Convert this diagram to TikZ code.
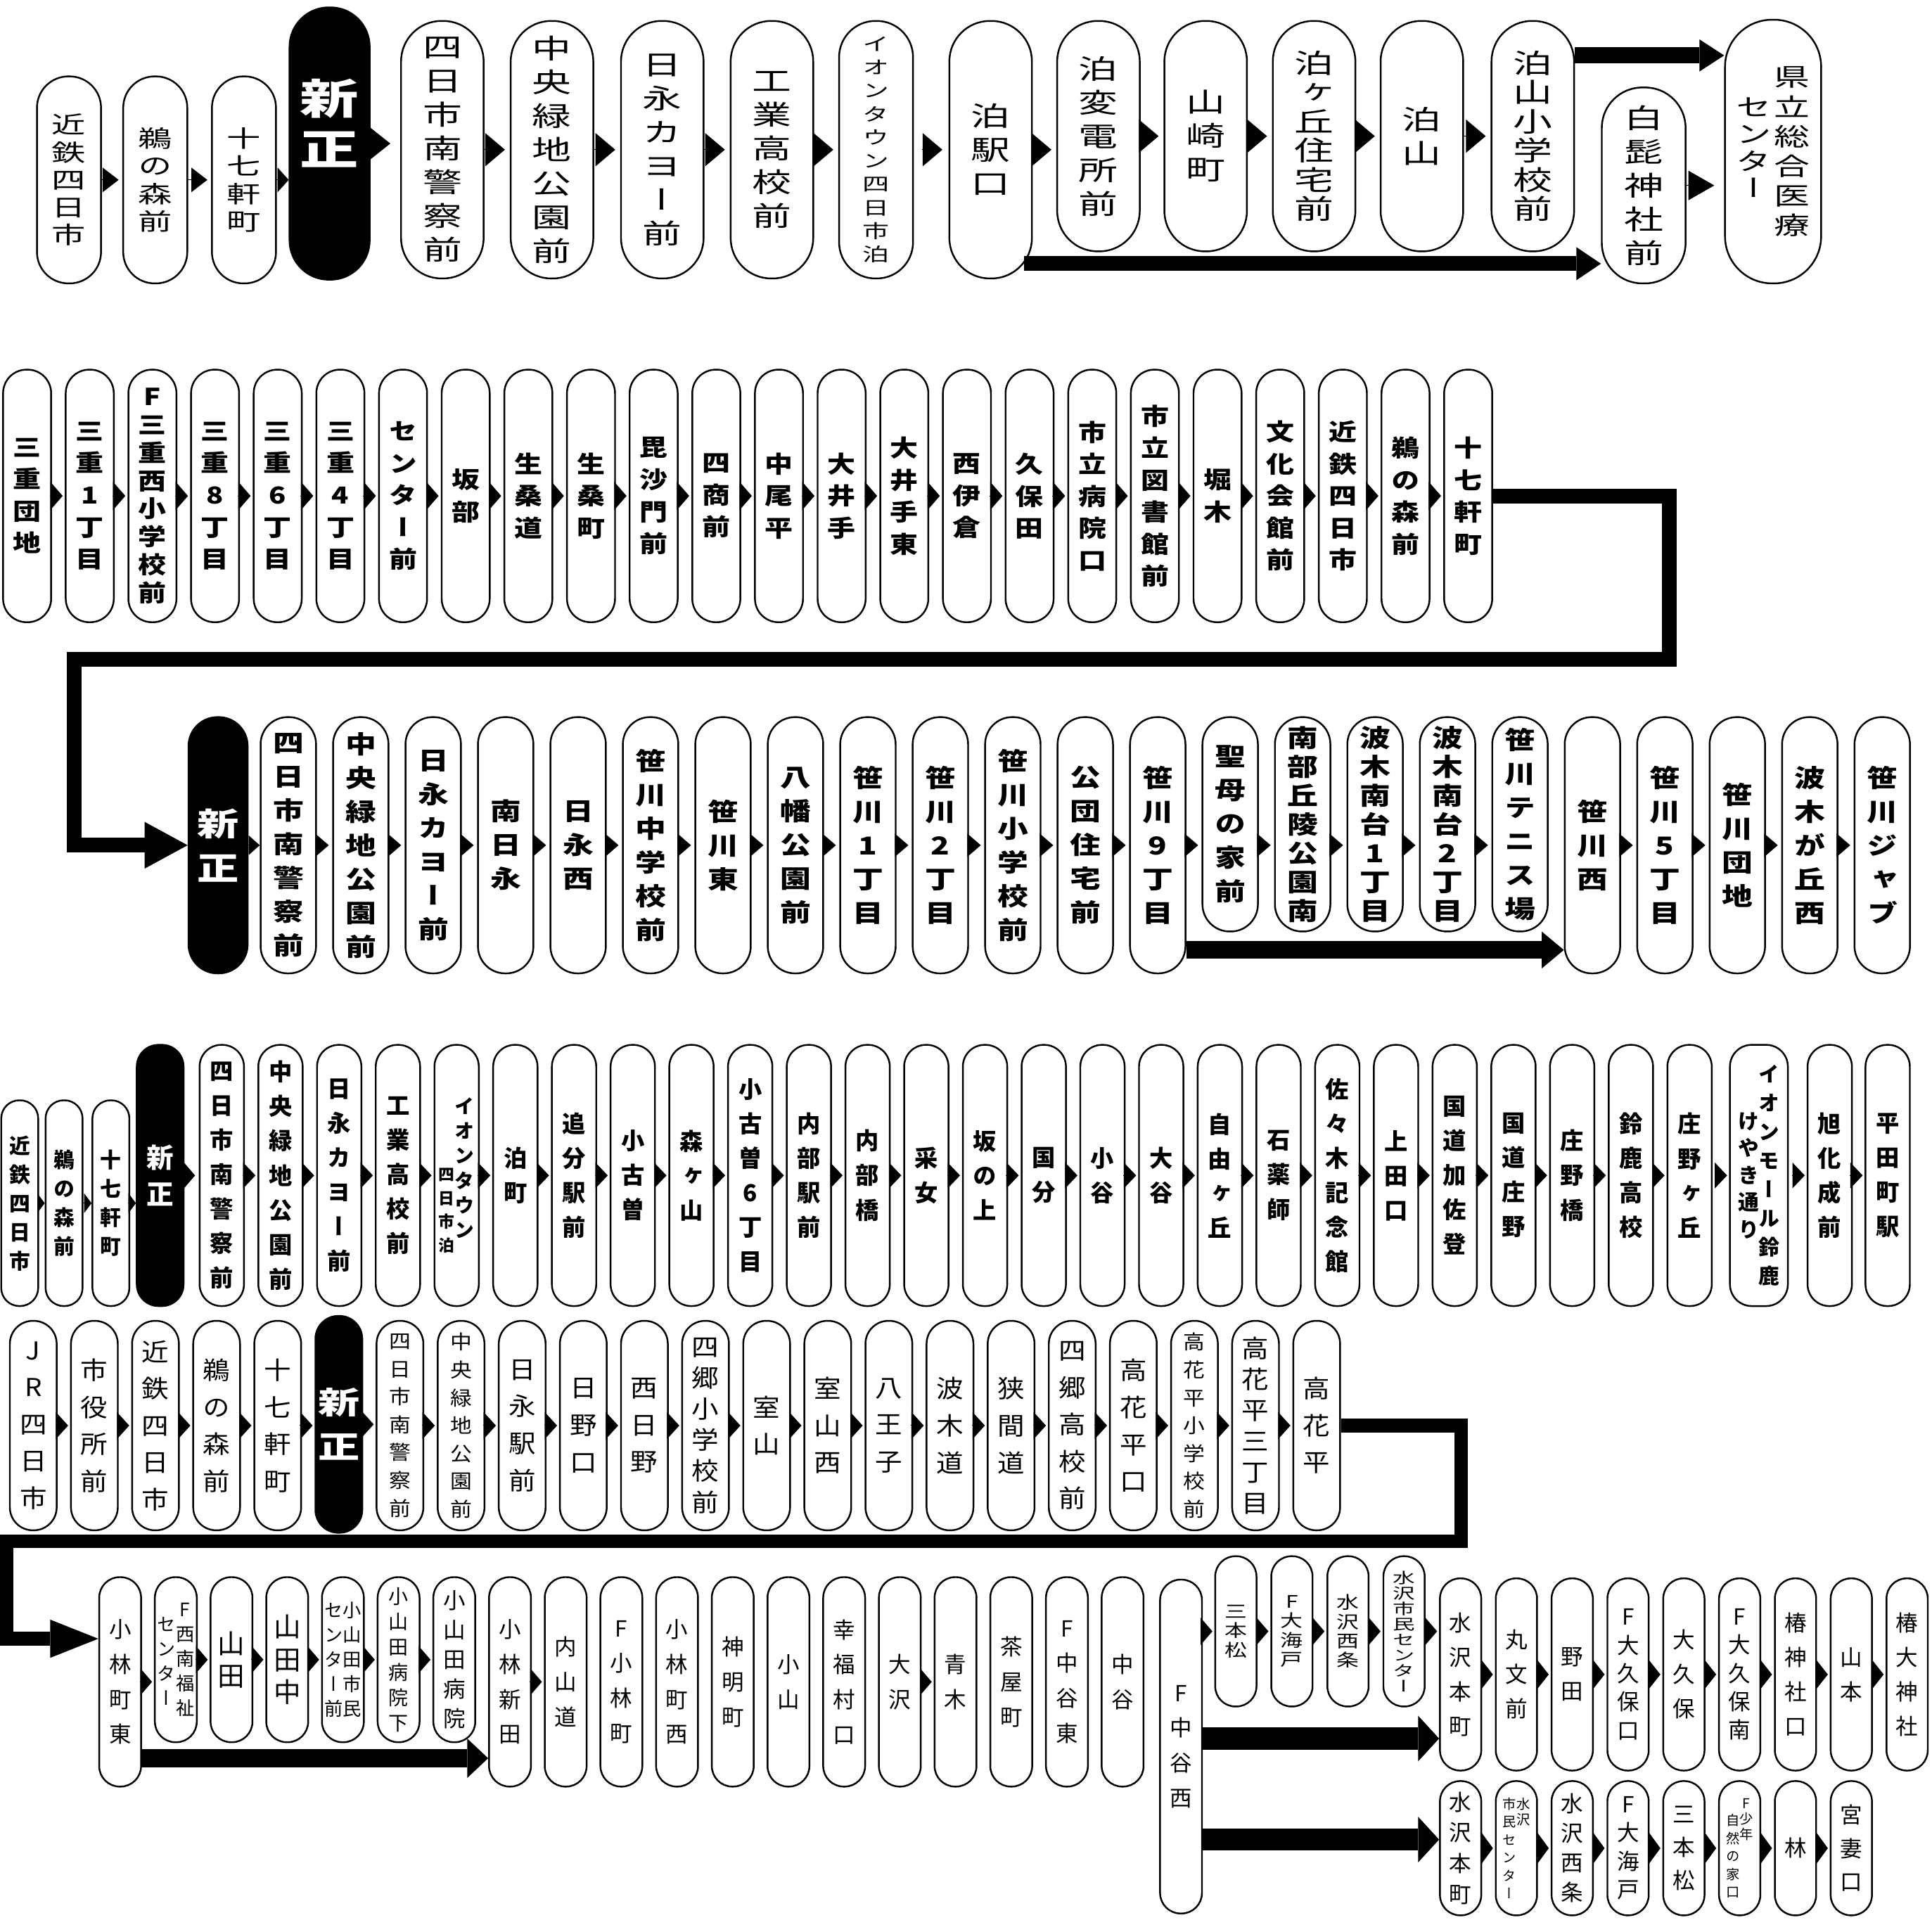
\documentclass[tikz,border=0pt]{standalone}
\usepackage{fontspec}
\usepackage{graphicx}
\usetikzlibrary{arrows.meta}
\newfontfamily\jp{Noto Sans CJK JP}[RawFeature=+vert]
\newcommand\setfs[2]{\fontsize{#1}{#2}\selectfont}
\def\vsx{1}
% stacked (vertical) station names
\ExplSyntaxOn
\NewDocumentCommand \vt { O{} m }
  {
    \scalebox{\vsx}[1]
      {
        \vtop
          {
            \tl_if_empty:nF {#1} { \skip_set:Nn \baselineskip {#1} }
            \dim_set:Nn \lineskiplimit { -\c_max_dim }
            \tl_map_inline:nn {#2} { \hbox_to_wd:nn { 1em } { \hss ##1 \hss } }
          }
      }
  }
\ExplSyntaxOff

\begin{document}
\begin{tikzpicture}[x=0.5pt, y=-0.5pt,
    stn/.style={draw, line width=0.7pt, fill=white, inner sep=0pt},
    stnbox/.style 2 args={stn, minimum width=#1, minimum height=#2, rounded corners=0.49*#1},
    blk/.style={fill=black, text=white},
    tri/.style 2 args={line width=0pt, -{Triangle[length=#1, width=#2]}},
    bigarrow/.style n args={3}{line width=#1, line join=miter, -{Triangle[length=#2, width=#3, line width=0pt]}},
    r1/.style={stnbox={33.5pt}{104.5pt}, font=\jp\setfs{11}{13.7}\def\vsx{1.45}},
    r1s/.style={stnbox={26pt}{84pt}, font=\jp\setfs{9.5}{11.2}\def\vsx{1.45}},
    r1m/.style={r1, minimum height=93.5pt},
    r2/.style={stnbox={19.5pt}{102.5pt}, font=\jp\bfseries\setfs{9.5}{13}\def\vsx{1.2}},
    r3/.style={stnbox={22.5pt}{104pt}, font=\jp\bfseries\setfs{10}{13.7}\def\vsx{1.25}},
    r3s/.style={r3, minimum height=87pt},
    r4/.style={stnbox={18pt}{106pt}, font=\jp\bfseries\setfs{9.5}{14}},
    r4s/.style={stnbox={15pt}{83.5pt}, font=\jp\bfseries\setfs{8.5}{11.7}},
    r5/.style={stnbox={19pt}{85pt}, font=\jp\setfs{10}{15}\def\vsx{1.1}},
    r6/.style={stnbox={17pt}{85pt}, font=\jp\setfs{9}{14.2}},
    r6s/.style={r6, minimum height=67pt},
    r6u/.style={stnbox={16.75pt}{61pt}, font=\jp\setfs{7}{7.8}\def\vsx{1.3}},
    r6r/.style={stnbox={16.75pt}{78pt}, font=\jp\setfs{9}{14}},
    r6b/.style={stnbox={16.75pt}{54.5pt}, font=\jp\setfs{9}{12.5}},
]
\path[use as bounding box, fill=white] (0,0) rectangle (1568,1558);

% Row 1 - Tomari / Kenritsu
\node[r1s] (a1) at (56,146) {\vt{近鉄四日市}};
\node[r1s] (a2) at (126,146) {\vt{鵜の森前}};
\node[r1s] (a3) at (198,146) {\vt{十七軒町}};
\node[stnbox={32.5pt}{110.5pt}, blk] (a4) at (267.5,116.5) {};
\node[text=white, font=\jp\bfseries\setfs{17}{20.6}\def\vsx{1.4}] (a4t) at (267.5,100) {\vt{新正}};
\node[r1] (a5) at (359,121.5) {\vt{四日市南警察前}};
\node[r1] (a6) at (448,121.5) {\vt{中央緑地公園前}};
\node[r1] (a7) at (537.5,121.5) {\vt{日永カヨー前}};
\node[r1] (a8) at (626.5,121.5) {\vt{工業高校前}};
\node[stnbox={30pt}{104.5pt}, font=\jp\setfs{7.5}{9.5}\def\vsx{1.45}] (a9) at (711,121.5) {\vt{イオンタウン四日市泊}};
\node[r1] (a10) at (804,121.5) {\vt{泊駅口}};
\node[r1m] (a11) at (891.5,110.5) {\vt{泊変電所前}};
\node[r1m] (a12) at (978.5,110.5) {\vt{山崎町}};
\node[r1m] (a13) at (1066.5,110.5) {\vt[11.85pt]{泊ヶ丘住宅前}};
\node[r1m] (a14) at (1154,110.5) {\vt{泊山}};
\node[r1m] (a15) at (1244,110.5) {\vt[11.85pt]{泊山小学校前}};
\node[r1, minimum width=34pt, minimum height=79.5pt] (a16) at (1334,150.5) {\vt{白髭神社前}};
\node[stnbox={39pt}{107pt}, font=\jp\setfs{10}{12}\def\vsx{1.45}] (a17) at (1439,123) {\raisebox{-12pt}{\vt[11pt]{センター}}\hspace{1pt}\vt{県立総合医療}};

\draw[tri={6.5pt}{10pt}, shorten >=1.5pt] (a1.east) -- (a1.east -| a2.west);
\draw[tri={6.5pt}{10pt}, shorten >=1.5pt] (a2.east) -- (a2.east -| a3.west);
\draw[tri={4.5pt}{10pt}] (a3.east) -- (a3.east -| a4.west);
\draw[tri={8.5pt}{13.5pt}, shorten >=4pt] (a4.east) -- (a4.east -| a5.west);
\foreach \i [evaluate=\i as \j using int(\i+1)] in {5,...,8,10,11,12,13,14}
    \draw[tri={8pt}{13.5pt}, shorten >=2pt] (a\i.east) -- (a\i.east -| a\j.west);
\draw[tri={8pt}{13.5pt}, shorten <=4pt, shorten >=2.5pt] (a9.east) -- (a9.east -| a10.west);
\draw[tri={10.5pt}{12pt}, shorten >=4pt] (a16.east) -- (a16.east -| a17.west);
\coordinate (p1) at ([yshift=32.75pt]a15.east);
\draw[bigarrow={6.5pt}{10pt}{13pt}] (p1) -- (p1 -| a17.west);
\coordinate (p2) at ([xshift=-3.5pt, yshift=-46.25pt]a10.east);
\draw[bigarrow={6pt}{10pt}{13.5pt}] (p2) -- (p2 -| a16.west);

% Row 2 - Mie danchi to Jushichikencho
\foreach \lbl [count=\i] in {\vt{三重団地}, \vt{三重1丁目}, \vt[11.4pt]{F三重西小学校前}, \vt{三重8丁目}, \vt{三重6丁目}, \vt{三重4丁目}, \vt{センター前}, \vt{坂部}, \vt{生桑道}, \vt{生桑町}, \vt{毘沙門前}, \vt{四商前}, \vt{中尾平}, \vt{大井手}, \vt{大井手東}, \vt{西伊倉}, \vt{久保田}, \vt{市立病院口}, \vt{市立図書館前}, \vt{堀木}, \vt{文化会館前}, \vt{近鉄四日市}, \vt{鵜の森前}, \vt{十七軒町}}
    \node[r2] (b\i) at ({22+(\i-1)*50.85},402.5) {\lbl};
\foreach \i [evaluate=\i as \j using int(\i+1)] in {1,...,23}
    \draw[tri={5pt}{11.5pt}, shorten >=0.9pt] (b\i.east) -- (b\i.east -| b\j.west);

% Row 3 - Sasagawa
\node[stnbox={24pt}{104pt}, blk, font=\jp\bfseries\setfs{13}{18}\def\vsx{1.3}] (c0) at (177,686) {\vt{新正}};
\foreach \lbl [count=\i] in {\vt{四日市南警察前}, \vt{中央緑地公園前}, \vt{日永カヨー前}, \vt{南日永}, \vt{日永西}, \vt{笹川中学校前}, \vt{笹川東}, \vt{八幡公園前}, \vt{笹川1丁目}, \vt{笹川2丁目}, \vt{笹川小学校前}, \vt{公団住宅前}, \vt{笹川9丁目}}
    \node[r3] (c\i) at ({234+(\i-1)*58.8},686) {\lbl};
\foreach \lbl [count=\i from 14] in {\vt{聖母の家前}, \vt[11.7pt]{南部丘陵公園南}, \vt[11.7pt]{波木南台1丁目}, \vt[11.7pt]{波木南台2丁目}, \vt{笹川テニス場}}
    \node[r3s] (c\i) at ({234+(\i-1)*58.8},669) {\lbl};
\foreach \lbl [count=\i from 19] in {\vt{笹川西}, \vt{笹川5丁目}, \vt{笹川団地}, \vt{波木が丘西}, \vt{笹川ジャブ}}
    \node[r3] (c\i) at ({234+(\i-1)*58.8},686) {\lbl};

\coordinate (q1) at (1355,535);
\coordinate (q2) at (60,535);
\draw[bigarrow={6pt}{17.5pt}{19pt}] (b24.east) -| (q1) -- (q2) |- (c0.west);
\draw[tri={4.5pt}{8pt}] (c0.east) -- (c0.east -| c1.west);
\foreach \i [evaluate=\i as \j using int(\i+1)] in {1,...,17,19,20,21,22}
    \draw[tri={5.5pt}{9.5pt}, shorten >=1.4pt] (c\i.east |- c1.east) -- (c\j.west |- c1.east);
\coordinate (p3) at ([yshift=-42.5pt]c13.east);
\draw[bigarrow={7pt}{9pt}{15pt}] (p3) -- (p3 -| c19.west);

% Row 4 - Suzuka
\foreach \lbl/\x [count=\i] in {\vt{近鉄四日市}/16, \vt{鵜の森前}/52, \vt{十七軒町}/90}
    \node[r4s] (d\i) at (\x,976.5) {\lbl};
\node[r4, blk, minimum width=19pt, font=\jp\bfseries\setfs{11}{15}] (d4) at (130,954) {\vt{新正}};
\foreach \lbl [count=\i from 5] in {\vt{四日市南警察前}, \vt{中央緑地公園前}, \vt{日永カヨー前}, \vt{工業高校前}, \setfs{6.5}{9.6}\raisebox{-27pt}{\vt{四日市泊}}\setfs{8}{10}\vt{イオンタウン}, \vt{泊町}, \vt{追分駅前}, \vt{小古曽}, \vt{森ヶ山}, \vt{小古曽6丁目}, \vt{内部駅前}, \vt{内部橋}, \vt{采女}, \vt{坂の上}, \vt{国分}, \vt{小谷}, \vt{大谷}, \vt{自由ヶ丘}, \vt{石薬師}, \vt{佐々木記念館}, \vt{上田口}, \vt{国道加佐登}, \vt{国道庄野}, \vt{庄野橋}, \vt{鈴鹿高校}, \vt{庄野ヶ丘}}
    \node[r4] (d\i) at ({180+(\i-5)*47.65},954) {\lbl};
\node[r4, minimum width=23.5pt] (d31) at (1427.5,954) {\setfs{8.5}{11}\raisebox{-19pt}{\vt{けやき通り}}\vt[11.7pt]{イオンモール鈴鹿}};
\node[r4] (d32) at (1485,954) {\vt{旭化成前}};
\node[r4] (d33) at (1532,954) {\vt{平田町駅}};

\foreach \i [evaluate=\i as \j using int(\i+1)] in {1,2,3}
    \draw[tri={3pt}{8pt}] (d\i.east) -- (d\i.east -| d\j.west);
\draw[tri={4.5pt}{10.5pt}, shorten >=1.5pt] (d4.east) -- (d4.east -| d5.west);
\foreach \i [evaluate=\i as \j using int(\i+1)] in {5,...,29,32}
    \draw[tri={5pt}{10.5pt}, shorten >=0.8pt] (d\i.east) -- (d\i.east -| d\j.west);
\foreach \i [evaluate=\i as \j using int(\i+1)] in {30,31}
    \draw[tri={5pt}{10.5pt}, shorten <=1.8pt, shorten >=0.8pt] (d\i.east) -- (d\i.east -| d\j.west);

% Row 5 - JR Yokkaichi to Takahanadaira
\foreach \lbl [count=\i] in {\vt{JR四日市}, \vt{市役所前}, \vt{近鉄四日市}, \vt{鵜の森前}, \vt{十七軒町}}
    \node[r5] (e\i) at ({27+(\i-1)*49.6},1157) {\lbl};
\node[stnbox={19pt}{88pt}, blk, font=\jp\bfseries\setfs{12.5}{18}\def\vsx{1.35}] (e6) at (275,1156) {\vt{新正}};
\foreach \lbl [count=\i from 7] in {\setfs{8}{11.3}\vt{四日市南警察前}, \setfs{8}{11.3}\vt{中央緑地公園前}, \vt{日永駅前}, \vt{日野口}, \vt{西日野}, \vt[12.6pt]{四郷小学校前}, \vt{室山}, \vt{室山西}, \vt{八王子}, \vt{波木道}, \vt{狭間道}, \vt{四郷高校前}, \vt{高花平口}, \setfs{8}{11.3}\vt{高花平小学校前}, \vt[12.6pt]{高花平三丁目}, \vt{高花平}}
    \node[r5] (e\i) at ({27+(\i-1)*49.6},1157) {\lbl};
\foreach \i [evaluate=\i as \j using int(\i+1)] in {1,...,21}
    \draw[tri={5pt}{11pt}, shorten >=0.8pt] (e\i.east) -- (e\i.east -| e\j.west);

% Row 6 - Kobayashi / Nakatani / Mizusawa
\node[r6] (f1) at (97.5,1365) {\vt{小林町東}};
\foreach \lbl [count=\i from 2] in {\setfs{7.5}{10}\raisebox{-6pt}{\vt{センター}}\vt{F西南福祉}, \setfs{11}{13.2}\vt{山田}, \setfs{11}{13.2}\vt{山田中}, \setfs{7.5}{10}\vt{センター前}\vt{小山田市民}, \setfs{8}{10.3}\vt{小山田病院下}, \vt[12pt]{小山田病院}}
    \node[r6s] (f\i) at ({97.5+(\i-1)*45.2},1347) {\lbl};
\foreach \lbl [count=\i from 8] in {\vt{小林新田}, \vt{内山道}, \vt{F小林町}, \vt{小林町西}, \vt{神明町}, \vt{小山}, \vt{幸福村口}, \vt{大沢}, \vt{青木}, \vt{茶屋町}, \vt{F中谷東}, \vt{中谷}}
    \node[r6] (f\i) at ({97.5+(\i-1)*45.2},1365) {\lbl};
\node[r6, minimum height=135.5pt] (f20) at (958.5,1417.5) {\vt{F中谷西}};
% upper branch
\foreach \lbl [count=\i] in {\vt{三本松}, \vt{F大海戸}, \vt{水沢西条}, \setfs{6}{6.3}\def\vsx{1.5}\vt{水沢市民センター}}
    \node[r6u] (g\i) at ({1003+(\i-1)*45.5},1324) {\lbl};
\foreach \lbl [count=\i] in {\vt{水沢本町}, \vt{丸文前}, \vt{野田}, \vt[11.5pt]{F大久保口}, \vt{大久保}, \vt[11.5pt]{F大久保南}, \vt{椿神社口}, \vt{山本}, \vt{椿大神社}}
    \node[r6r] (h\i) at ({1185.4+(\i-1)*45.3},1359) {\lbl};
% lower branch
\foreach \lbl [count=\i] in {\vt{水沢本町}, \setfs{5.5}{7.3}\vt{市民センター}\vt[6.3pt]{水沢}, \vt[12pt]{水沢西条}, \vt[11.5pt]{F大海戸}, \vt[13.5pt]{三本松}, \setfs{5.5}{7.3}\raisebox{-7pt}{\vt{自然の家口}}\vt[6.3pt]{F少年}, \vt{林}, \vt[13.5pt]{宮妻口}}
    \node[r6b] (k\i) at ({1185.4+(\i-1)*45.3},1500) {\lbl};

\coordinate (q3) at (1186,1251);
\coordinate (q4) at (5.5,1251);
\draw[bigarrow={5.5pt}{19.5pt}{15.5pt}] (e22.east) -| (q3) -- (q4) |- ([yshift=17.5pt]f1.west);
\foreach \i [evaluate=\i as \j using int(\i+1)] in {1,...,6,8,...,19}
    \draw[tri={4.75pt}{11pt}, shorten >=0.8pt] (f\i.east) -- (f\i.east -| f\j.west);
\draw[tri={4.75pt}{11pt}, shorten >=0.8pt] (g1.west -| f20.east) -- (g1.west);
\foreach \i [evaluate=\i as \j using int(\i+1)] in {1,2,3}
    \draw[tri={4.75pt}{11pt}, shorten >=0.8pt] (g\i.east) -- (g\i.east -| g\j.west);
\draw[tri={4.75pt}{11pt}, shorten >=0.8pt] (g4.east) -- (g4.east -| h1.west);
\foreach \i [evaluate=\i as \j using int(\i+1)] in {1,...,8}
    \draw[tri={4.75pt}{12pt}, shorten >=0.8pt] (h\i.east) -- (h\i.east -| h\j.west);
\foreach \i [evaluate=\i as \j using int(\i+1)] in {1,...,7}
    \draw[tri={4.75pt}{13pt}, shorten >=0.8pt] (k\i.east) -- (k\i.east -| k\j.west);
\coordinate (p4) at ([yshift=-31pt]f1.east);
\draw[bigarrow={7.5pt}{8.5pt}{16pt}] (p4) -- (p4 -| f8.west);
\coordinate (p5) at ([yshift=3.25pt]f20.east);
\draw[bigarrow={9pt}{8.5pt}{18.5pt}] (p5) -- (p5 -| h1.west);
\coordinate (p6) at ([yshift=-37.75pt]f20.east);
\draw[bigarrow={9pt}{8.5pt}{18.5pt}] (p6) -- (p6 -| k1.west);
\end{tikzpicture}
\end{document}
